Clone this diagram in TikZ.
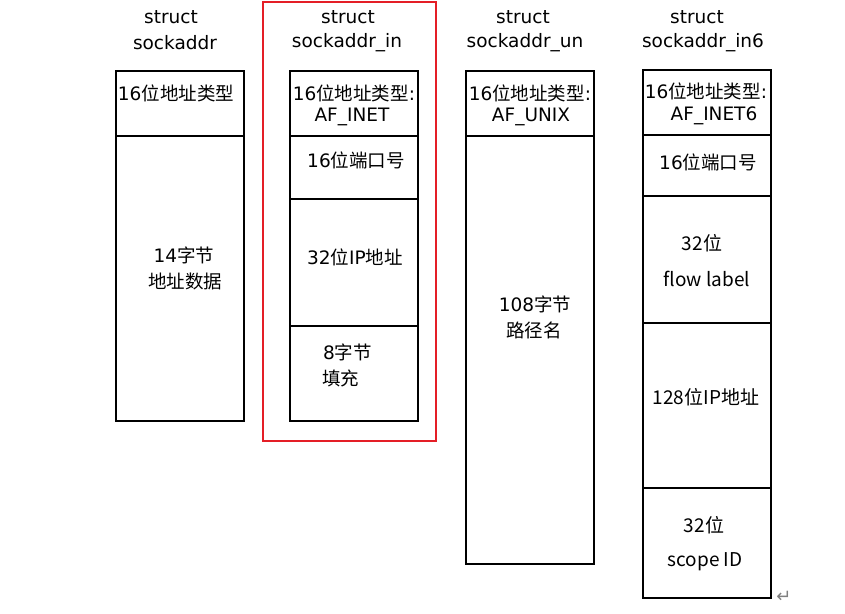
\documentclass[tikz,border=0pt]{standalone}
\usepackage{fontspec}
\setmainfont{DejaVu Sans}
\newfontfamily\cjk{Noto Sans CJK SC}
\definecolor{redframe}{RGB}{228,30,38}
\begin{document}
\begin{tikzpicture}[x=1pt,y=-1pt,
  cell/.style={draw, line width=2.7pt, rectangle, inner sep=0pt, minimum width=128pt},
  ttl/.style={font=\fontsize{18.5}{22}\selectfont, inner sep=0pt},
  lbl/.style={font=\fontsize{18.5}{22}\selectfont, inner sep=0pt},
  yh/.style={font=\cjk\fontsize{19}{22}\selectfont, inner sep=0pt}]
\useasboundingbox (0,0) rectangle (845,613);
% selection frame
\node[draw=redframe, line width=2pt, minimum width=173pt, minimum height=439pt, inner sep=0pt] (sel) at (349.5,221.5) {};
% titles
\node[ttl] (t1a) at (171,17) {struct};
\node[ttl] (t1b) at (175,43) {sockaddr};
\node[ttl] (t2a) at (348,17) {struct};
\node[ttl] (t2b) at (347,43) {sockaddr\_in};
\node[ttl] (t3a) at (523,17) {struct};
\node[ttl] (t3b) at (525,43) {sockaddr\_un};
\node[ttl] (t4a) at (697,17) {struct};
\node[ttl] (t4b) at (703,43) {sockaddr\_in6};
% column 1
\node[cell, minimum height=65pt] (a1) at (180,103.5) {};
\node[cell, minimum height=285pt] (a2) at (180,278.5) {};
% column 2
\node[cell, minimum height=65pt] (b1) at (354,103.5) {};
\node[cell, minimum height=63pt] (b2) at (354,167.5) {};
\node[cell, minimum height=127pt] (b3) at (354,262.5) {};
\node[cell, minimum height=95pt] (b4) at (354,373.5) {};
% column 3
\node[cell, minimum height=65pt] (c1) at (530,103.5) {};
\node[cell, minimum height=428pt] (c2) at (530,350) {};
% column 4
\node[cell, minimum height=65pt] (d1) at (707,102.5) {};
\node[cell, minimum height=61pt] (d2) at (707,165.5) {};
\node[cell, minimum height=127pt] (d3) at (707,259.5) {};
\node[cell, minimum height=165pt] (d4) at (707,405.5) {};
\node[cell, minimum height=110pt] (d5) at (707,543) {};
% texts column 1
\node[lbl] (la1) at (176,93) {16{\cjk 位地址类型}};
\node[lbl] (la2) at (184,255) {14{\cjk 字节}};
\node[lbl] (la3) at (185,281) {\cjk 地址数据};
% texts column 2
\node[lbl] (lb1) at (354,93) {16{\cjk 位地址类型}:};
\node[lbl] (lb2) at (352,117) {AF\_INET};
\node[lbl] (lb3) at (356,160) {16{\cjk 位端口号}};
\node[lbl] (lb4) at (355,257) {32{\cjk 位}IP{\cjk 地址}};
\node[lbl, anchor=west] (lb5) at (323,352) {8{\cjk 字节}};
\node[lbl, anchor=west] (lb6) at (322,378) {\cjk 填充};
% texts column 3
\node[lbl] (lc1) at (530,93) {16{\cjk 位地址类型}:};
\node[lbl] (lc2) at (531,117) {AF\_UNIX};
\node[lbl] (lc3) at (535,304) {108{\cjk 字节}};
\node[lbl] (lc4) at (534,330) {\cjk 路径名};
% texts column 4
\node[lbl] (ld1) at (706,91) {16{\cjk 位地址类型}:};
\node[lbl] (ld2) at (714,116) {AF\_INET6};
\node[lbl] (ld3) at (708,162) {16{\cjk 位端口号}};
\node[yh] (ld4) at (702,243) {32位};
\node[yh] (ld5) at (707,279) {flow label};
\node[yh] (ld6) at (706,397) {128位IP地址};
\node[yh] (ld7) at (704,525) {32位};
\node[yh] (ld8) at (705,562) {scope ID};
% return mark
\node[font=\fontsize{18}{18}\selectfont, text=gray, inner sep=0pt] (ret) at (784,597) {↵};
\end{tikzpicture}
\end{document}
